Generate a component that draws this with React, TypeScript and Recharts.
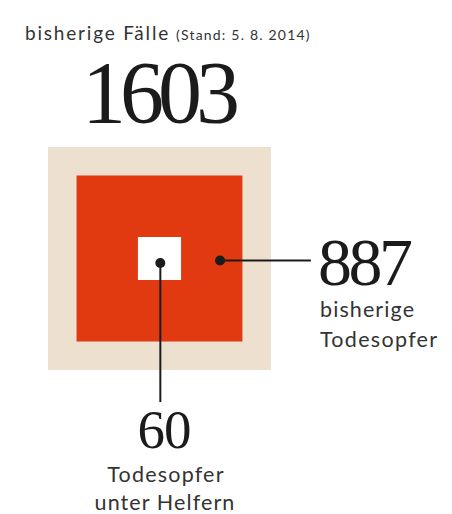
import { ComposedChart, XAxis, YAxis, ReferenceArea, ReferenceDot, ReferenceLine } from 'recharts';

// values (Stand: 5. 8. 2014)
const labels = ['bisherige Fälle', 'bisherige Todesopfer', 'Todesopfer unter Helfern'];
const values = [1603, 887, 60];
const colors = ['#EDE0CF', '#E23A10', '#FFFFFF'];

// squares are drawn with area ~ value, so side = sqrt(value)
const side = values.map((v) => Math.sqrt(v));
const S = side[0];
const C = S / 2;

const W = 452;
const H = 514;
const ink = '#1b1b1b';
const serif = '"Liberation Serif", "Times New Roman", serif';
const sans = 'Lato, "Open Sans", sans-serif';

export default function App() {
  const redDotX = C + side[1] * 0.365;
  return (
    <div style={{ position: 'absolute', left: 0, top: 0, width: W, height: H, background: '#fff' }}>
      <ComposedChart
        width={W}
        height={H}
        data={[{ x: C, y: C }]}
        margin={{ top: 147, right: 181, left: 48, bottom: 144 }}
      >
        <XAxis type="number" dataKey="x" domain={[0, S]} hide allowDataOverflow />
        <YAxis type="number" dataKey="y" domain={[0, S]} hide reversed allowDataOverflow />
        {values.map((v, i) => (
          <ReferenceArea
            key={labels[i]}
            x1={C - side[i] / 2}
            x2={C + side[i] / 2}
            y1={C - side[i] / 2}
            y2={C + side[i] / 2}
            fill={colors[i]}
            fillOpacity={1}
            stroke="none"
            ifOverflow="visible"
          />
        ))}
        {/* leader for 887 */}
        <ReferenceLine
          segment={[{ x: redDotX, y: C + 0.35 }, { x: 47.2, y: C + 0.35 }]}
          stroke={ink}
          strokeWidth={2}
          ifOverflow="visible"
        />
        <ReferenceDot x={redDotX} y={C + 0.35} r={5} fill={ink} stroke="none" ifOverflow="visible" />
        {/* leader for 60 */}
        <ReferenceLine
          segment={[{ x: C + 0.15, y: C + 0.8 }, { x: C + 0.15, y: 45.8 }]}
          stroke={ink}
          strokeWidth={2}
          ifOverflow="visible"
        />
        <ReferenceDot x={C + 0.15} y={C + 0.8} r={5} fill={ink} stroke="none" ifOverflow="visible" />
      </ComposedChart>
      <svg width={W} height={H} style={{ position: 'absolute', left: 0, top: 0, pointerEvents: 'none' }}>
        <text x={25} y={40} fontFamily={sans} fontSize={19} letterSpacing={1.8} fill="#333">
          {labels[0]}
          <tspan fontSize={14} letterSpacing={1.2} dx={6}>(Stand: 5. 8. 2014)</tspan>
        </text>
        <text x={158} y={122} textAnchor="middle" fontFamily={serif} fontSize={88} letterSpacing={-6} fill={ink}>
          {values[0]}
        </text>
        <text x={318} y={285} fontFamily={serif} fontSize={68} letterSpacing={-3.5} fill={ink}>
          {values[1]}
        </text>
        <text x={320} y={317} fontFamily={sans} fontSize={21.5} letterSpacing={1.1} fill="#333">bisherige</text>
        <text x={320} y={347} fontFamily={sans} fontSize={21.5} letterSpacing={1.3} fill="#333">Todesopfer</text>
        <text x={164} y={448} textAnchor="middle" fontFamily={serif} fontSize={55} letterSpacing={-1} fill={ink}>
          {values[2]}
        </text>
        <text x={166} y={482} textAnchor="middle" fontFamily={sans} fontSize={21.5} letterSpacing={1.2} fill="#333">Todesopfer</text>
        <text x={165} y={510} textAnchor="middle" fontFamily={sans} fontSize={21.5} letterSpacing={1.1} fill="#333">unter Helfern</text>
      </svg>
    </div>
  );
}
